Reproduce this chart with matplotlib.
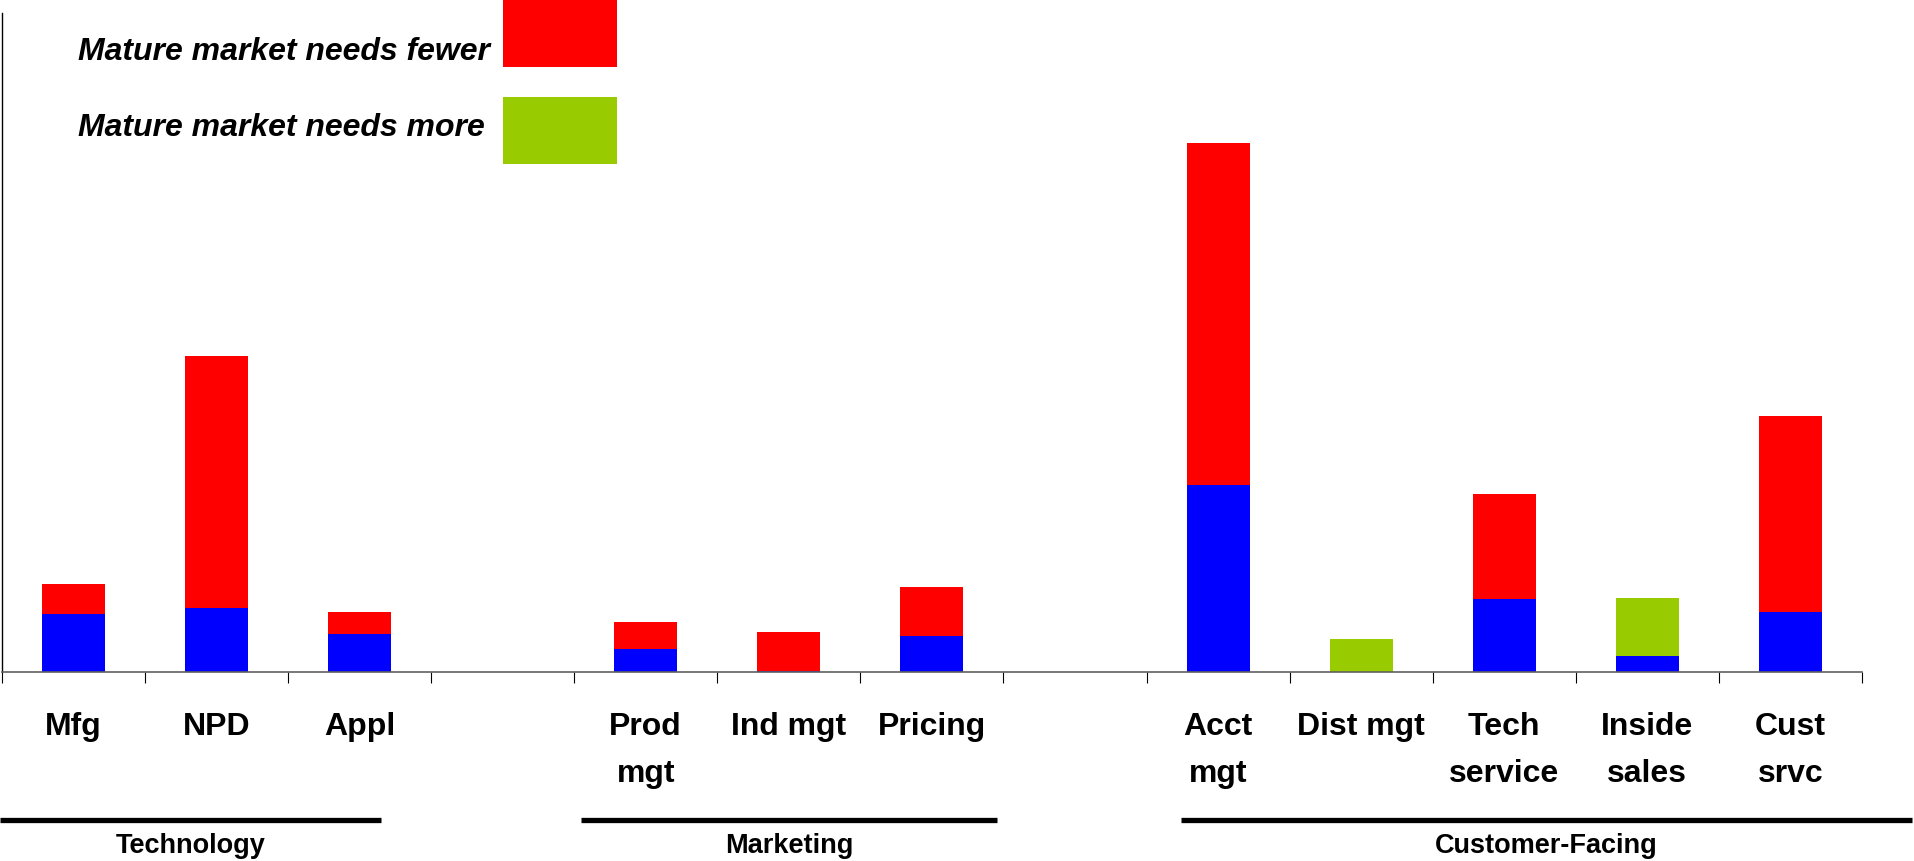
import matplotlib
matplotlib.use('Agg')
import matplotlib.pyplot as plt
from matplotlib.patches import Rectangle
from matplotlib.lines import Line2D
import numpy as np

# headcount by function (blank slots separate the groups)
categories = ['Mfg', 'NPD', 'Appl', '',
              'Prod\nmgt', 'Ind mgt', 'Pricing', '',
              'Acct\nmgt', 'Dist mgt', 'Tech\nservice', 'Inside\nsales', 'Cust\nsrvc']
base = [8.8, 9.8, 5.8, 0, 3.5, 0.15, 5.5, 0, 28.4, 0, 11.1, 2.5, 9.1]
fewer = [4.6, 38.1, 3.4, 0, 4.1, 5.9, 7.4, 0, 51.9, 0, 15.9, 0, 29.7]
more = [0, 0, 0, 0, 0, 0, 0, 0, 0, 5.1, 0, 8.7, 0]

groups = ['Technology', 'Marketing', 'Customer-Facing']
legend_labels = ['Mature market needs fewer', 'Mature market needs more']

BLUE = '#0000FF'
RED = '#FF0000'
GREEN = '#99CC00'
FONT = 'Liberation Sans'

W, H = 1914, 861
fig = plt.figure(figsize=(W / 100, H / 100), dpi=100)
ax = fig.add_axes([1.7 / W, (H - 672.3) / H, (1862 - 1.7) / W, (672.3 - 13) / H])

x = np.arange(len(categories))
base = np.array(base)
fewer = np.array(fewer)
more = np.array(more)
bw = 0.44
ax.bar(x, base, bw, color=BLUE, linewidth=0)
ax.bar(x, fewer, bw, bottom=base, color=RED, linewidth=0)
ax.bar(x, more, bw, bottom=base, color=GREEN, linewidth=0)

ax.set_xlim(-0.5, len(categories) - 0.5)
ax.set_ylim(0, 100)
ax.set_yticks([])
for s in ['top', 'right']:
    ax.spines[s].set_visible(False)
ax.spines['left'].set_color('black')
ax.spines['left'].set_linewidth(1.0)
ax.spines['bottom'].set_color('#606060')
ax.spines['bottom'].set_linewidth(1.2)

# category boundaries as tick marks, labels centred on the bars
ax.set_xticks(np.arange(len(categories) + 1) - 0.5, minor=True)
ax.tick_params(axis='x', which='minor', length=8, width=0.8, color='black', direction='out')
ax.set_xticks(x)
ax.set_xticklabels(categories, fontsize=23, fontweight='bold', family=FONT, linespacing=1.75)
ax.tick_params(axis='x', which='major', length=0, pad=28.5)

# group brackets under the labels
spans = [(0, 381), (581, 997), (1181, 1912)]
for name, (x0, x1) in zip(groups, spans):
    fig.add_artist(Line2D([x0 / W, x1 / W], [(H - 820) / H] * 2, color='black',
                          linewidth=3.8, solid_capstyle='butt'))
    fig.text((x0 + x1) / 2 / W, (H - 853) / H, name, ha='center', va='baseline',
             fontsize=19.5, fontweight='bold', family=FONT)

# legend boxes drawn by hand at the top left
for lab, col, top, txt_y in zip(legend_labels, [RED, GREEN], [0, 97], [60, 136]):
    fig.add_artist(Rectangle((503 / W, (H - top - 66.5) / H), 114 / W, 66.5 / H,
                             facecolor=col, edgecolor='none'))
    fig.text(77.6 / W, (H - txt_y) / H, lab, ha='left', va='baseline', fontsize=23,
             fontweight='bold', fontstyle='italic', family=FONT)

fig.savefig('out.png', dpi=100, facecolor='white')
